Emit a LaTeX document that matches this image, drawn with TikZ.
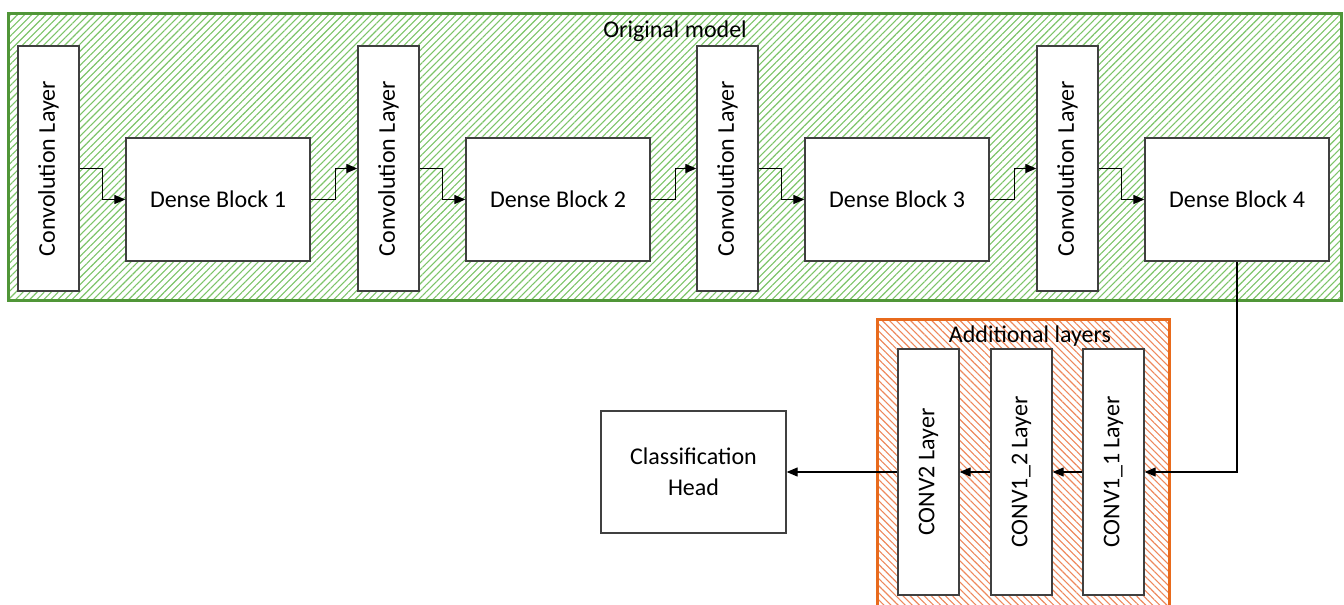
\documentclass[tikz,border=0pt]{standalone}
\usepackage{fontspec}
\setmainfont{Carlito}
\usepackage{graphicx}
\usetikzlibrary{arrows.meta,patterns.meta}
\definecolor{grframe}{RGB}{80,150,56}
\definecolor{grhatch}{RGB}{124,196,104}
\definecolor{orframe}{RGB}{232,106,28}
\definecolor{orhatch}{RGB}{238,136,92}
\definecolor{boxline}{RGB}{64,64,64}
\tikzset{
  x=1pt, y=-1pt,
  every node/.style={font=\fontsize{24}{31}\selectfont, text=black},
  block/.style={draw=boxline, line width=1.3pt, fill=white, inner sep=0pt, align=center},
  convbox/.style={block, minimum width=61pt, minimum height=245pt},
  densebox/.style={block, minimum width=184pt, minimum height=123pt},
  addbox/.style={block, minimum width=61pt, minimum height=246pt},
  arr/.style={draw=black, line width=1.2pt, -{Triangle[length=11pt,width=9pt]}},
}
\begin{document}
\begin{tikzpicture}
\useasboundingbox (0,0) rectangle (1344,605);
\fill[white] (0,0) rectangle (1344,605);

% backbone frame
\path[pattern={Lines[angle=45,distance=5pt,line width=1.1pt]}, pattern color=grhatch]
  (8,13) rectangle (1341,300);
\draw[grframe, line width=3pt] (8,13) rectangle (1341,300);
\node (orig) at (675,31) {Original model};

% extra layers frame
\path[pattern={Lines[angle=-45,distance=5pt,line width=1.1pt]}, pattern color=orhatch]
  (877,319) rectangle (1169,620);
\draw[orframe, line width=3pt] (877,319) rectangle (1169,620);
\node (addl) at (1030,336) {Additional layers};

% backbone blocks
\node[convbox] (c1) at (48.5,168.5) {\rotatebox{90}{Convolution Layer}};
\node[convbox] (c2) at (388.5,168.5) {\rotatebox{90}{Convolution Layer}};
\node[convbox] (c3) at (727.5,168.5) {\rotatebox{90}{Convolution Layer}};
\node[convbox] (c4) at (1067.5,168.5) {\rotatebox{90}{Convolution Layer}};
\node[densebox] (d1) at (218,199.5) {Dense Block 1};
\node[densebox] (d2) at (558,199.5) {Dense Block 2};
\node[densebox] (d3) at (897,199.5) {Dense Block 3};
\node[densebox] (d4) at (1237,199.5) {Dense Block 4};

% extra layers and head
\node[addbox] (a1) at (1113.5,472) {\rotatebox{90}{CONV1\_1 Layer}};
\node[addbox] (a2) at (1021.5,472) {\rotatebox{90}{CONV1\_2 Layer}};
\node[addbox] (a3) at (928.5,472) {\rotatebox{90}{CONV2 Layer}};
\node[block, minimum width=185pt, minimum height=122pt] (head) at (693.5,472) {Classification\\Head};

% connectors
\draw[arr] (c1.east) -- ++(23,0) |- (d1.west);
\draw[arr] (d1.east) -- ++(25,0) |- (c2.west);
\draw[arr] (c2.east) -- ++(23,0) |- (d2.west);
\draw[arr] (d2.east) -- ++(25,0) |- (c3.west);
\draw[arr] (c3.east) -- ++(23,0) |- (d3.west);
\draw[arr] (d3.east) -- ++(25,0) |- (c4.west);
\draw[arr] (c4.east) -- ++(23,0) |- (d4.west);
\draw[arr] (d4.south) |- (a1.east);
\draw[arr] (a1.west) -- (a2.east);
\draw[arr] (a2.west) -- (a3.east);
\draw[arr] (a3.west) -- (head.east);
\end{tikzpicture}
\end{document}
